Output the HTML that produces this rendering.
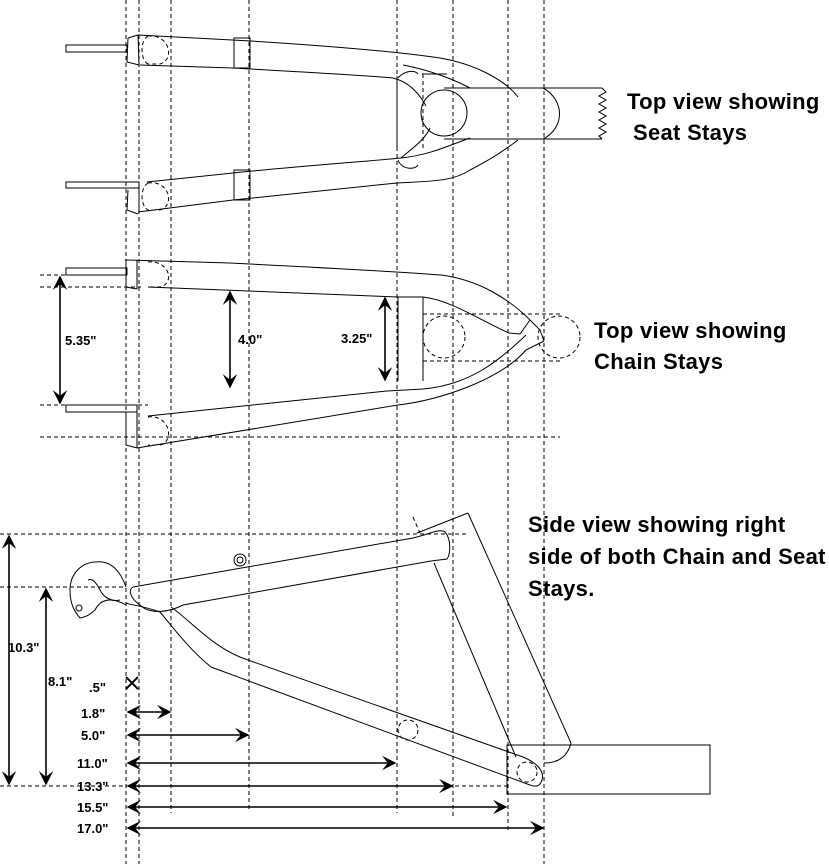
<!DOCTYPE html>
<html><head><meta charset="utf-8"><style>
html,body{margin:0;padding:0;background:#fff;}
svg{display:block;}
.l{fill:none;stroke:#000;stroke-width:1;}
.d{fill:none;stroke:#000;stroke-width:1;stroke-dasharray:4,3;}
.a{fill:none;stroke:#000;stroke-width:1.6;}
.t{font-family:"Liberation Sans",sans-serif;font-weight:bold;font-size:22px;letter-spacing:0.3px;}
.s{font-family:"Liberation Sans",sans-serif;font-weight:bold;font-size:13px;}
</style></head><body>
<svg width="829" height="864" viewBox="0 0 829 864" xmlns="http://www.w3.org/2000/svg">
<defs>
<marker id="ah" viewBox="0 0 10 10" refX="9" refY="5" markerWidth="9" markerHeight="9" orient="auto-start-reverse">
<path d="M0,0 L10,5 L0,10 L4,5 Z" fill="#000"/></marker>
</defs>
<line class="d" x1="126" y1="0" x2="126" y2="864"/>
<line class="d" x1="139" y1="0" x2="139" y2="864"/>
<line class="d" x1="171" y1="0" x2="171" y2="813"/>
<line class="d" x1="249" y1="0" x2="249" y2="810"/>
<line class="d" x1="397" y1="0" x2="397" y2="813"/>
<line class="d" x1="453" y1="0" x2="453" y2="818"/>
<line class="d" x1="508" y1="0" x2="508" y2="830"/>
<line class="d" x1="544" y1="0" x2="544" y2="864"/>

<!-- TOP VIEW SEAT STAYS -->
<rect class="l" x="66" y="45" width="61" height="7"/>
<rect class="l" x="66" y="182" width="73" height="6"/>
<path class="l" d="M138,35 L251,41 C330,46 400,52 440,58 C475,64 505,80 518,97"/>
<path class="l" d="M128,38 L138,35 M128,38 L127,62 L139,65 M138,35 L139,65"/>
<path class="l" d="M140,65 L233,68 C300,72 360,75 393,78 C410,82 420,95 426,106"/>
<path class="d" d="M148,36 C170,34 175,60 160,64 L148,64 M148,36 C140,40 140,60 148,64"/>
<rect class="l" x="234" y="38" width="16" height="30"/>
<path class="l" d="M397,76 L397,148 M422,74 L447,74"/>
<path class="d" d="M423,74 L423,150"/>
<path class="l" d="M398,78 C405,70 415,70 418,74"/>
<path class="l" d="M403,65 C430,70 455,80 470,88"/>
<circle class="l" cx="444" cy="113" r="23"/>
<path class="l" d="M444,88 L602,88 M444,139 L602,139 M543,88 C565,100 565,128 543,139"/>
<path class="l" d="M602,88 L606,92 L599,96 L606,100 L599,104 L606,108 L599,112 L606,116 L599,120 L606,124 L599,128 L606,132 L599,136 L602,139" stroke-width="0.8"/>
<path class="l" d="M147,182 L233,173 C300,166 360,162 401,158 C430,155 450,145 470,138"/>
<path class="l" d="M138,212 L233,200 C300,193 360,187 397,183 C430,181 452,182 470,170 C490,160 505,150 518,140"/>
<path class="l" d="M128,190 L127,210 L138,214 M139,188 L139,212"/>
<path class="d" d="M148,183 C170,180 175,206 160,210 L148,210 M148,183 C140,188 140,205 148,210"/>
<rect class="l" x="234" y="170" width="16" height="30"/>
<path class="l" d="M401,158 C410,150 425,140 430,128"/>
<path class="l" d="M398,160 C402,170 415,170 418,165"/>

<!-- TOP VIEW CHAIN STAYS -->
<line class="d" x1="40" y1="275" x2="126" y2="275"/>
<line class="d" x1="40" y1="287" x2="141" y2="287"/>
<line class="d" x1="40" y1="405" x2="148" y2="405"/>
<line class="d" x1="40" y1="437" x2="560" y2="437"/>
<rect class="l" x="66" y="268" width="61" height="7"/>
<rect class="l" x="66" y="405" width="71" height="7"/>
<path class="l" d="M125,260 L230,263 C330,268 400,272 441,275 C480,280 510,300 530,320 L540,330 L544,341"/>
<path class="l" d="M126,263 L126,287 L137,289 M137,260 L137,289"/>
<path class="l" d="M148,287 L398,297 L423,297 C450,300 480,320 509,333 L520,334 L530,320"/>
<path class="d" d="M148,262 C170,260 175,284 160,287 L148,287"/>
<path class="l" d="M148,416 L387,391 L423,389 C470,385 500,360 526,335"/>
<path class="l" d="M137,448 L398,405 C440,400 500,380 526,350 L544,341"/>
<path class="l" d="M126,412 L126,445 L137,448 M137,412 L137,448"/>
<path class="d" d="M148,417 C170,414 175,442 160,445 L148,445"/>
<line class="l" x1="423" y1="297" x2="423" y2="381"/>
<line class="l" x1="398" y1="297" x2="398" y2="381"/>
<circle class="d" cx="444" cy="337" r="21"/>
<circle class="d" cx="559" cy="337" r="21"/>
<line class="d" x1="423" y1="361" x2="560" y2="361"/>
<line class="d" x1="423" y1="314" x2="560" y2="314"/>
<line class="a" x1="60" y1="277" x2="60" y2="403" marker-start="url(#ah)" marker-end="url(#ah)"/>
<line class="a" x1="230" y1="292" x2="230" y2="387" marker-start="url(#ah)" marker-end="url(#ah)"/>
<line class="a" x1="385" y1="298" x2="385" y2="380" marker-start="url(#ah)" marker-end="url(#ah)"/>
<text class="s" x="65" y="345">5.35"</text>
<text class="s" x="238" y="344">4.0"</text>
<text class="s" x="341" y="343">3.25"</text>

<!-- SIDE VIEW -->
<line class="d" x1="0" y1="534" x2="468" y2="534"/>
<line class="d" x1="0" y1="587" x2="126" y2="587"/>
<line class="d" x1="0" y1="786" x2="508" y2="786"/>
<line class="a" x1="9" y1="536" x2="9" y2="784" marker-start="url(#ah)" marker-end="url(#ah)"/>
<line class="a" x1="46" y1="589" x2="46" y2="784" marker-start="url(#ah)" marker-end="url(#ah)"/>
<text class="s" x="8" y="652">10.3"</text>
<text class="s" x="48" y="686">8.1"</text>
<text class="s" x="89" y="692">.5"</text>
<path d="M126,677 L138,689 M138,677 L126,689" stroke="#000" stroke-width="2"/>
<text class="s" x="81" y="718">1.8"</text>
<text class="s" x="81" y="740">5.0"</text>
<text class="s" x="77" y="768">11.0"</text>
<text class="s" x="77" y="791">13.3"</text>
<text class="s" x="77" y="812">15.5"</text>
<text class="s" x="77" y="833">17.0"</text>
<line class="a" x1="128" y1="712" x2="170" y2="712" marker-start="url(#ah)" marker-end="url(#ah)"/>
<line class="a" x1="128" y1="735" x2="248" y2="735" marker-start="url(#ah)" marker-end="url(#ah)"/>
<line class="a" x1="128" y1="763" x2="395" y2="763" marker-start="url(#ah)" marker-end="url(#ah)"/>
<line class="a" x1="128" y1="786" x2="452" y2="786" marker-start="url(#ah)" marker-end="url(#ah)"/>
<line class="a" x1="128" y1="807" x2="506" y2="807" marker-start="url(#ah)" marker-end="url(#ah)"/>
<line class="a" x1="128" y1="828" x2="543" y2="828" marker-start="url(#ah)" marker-end="url(#ah)"/>
<path class="l" d="M126,587 C120,570 110,560 95,562 C80,563 70,575 70,590 C70,605 75,612 80,618 C90,616 92,612 95,610 C100,600 110,596 126,605"/>
<circle class="l" cx="79" cy="608" r="3"/>
<path class="l" d="M88,580 C92,578 96,582 100,590 C104,598 112,602 120,600"/>
<path class="l" d="M133,587 L413,538 C430,534 440,528 445,532 C452,540 450,555 447,559 L431,561 L183,605 C170,612 150,615 140,605 C130,598 128,590 133,587 Z"/>
<circle class="l" cx="240" cy="560" r="6"/>
<circle class="l" cx="240" cy="560" r="3"/>
<path class="l" d="M417,533 L468,513"/>
<path class="l" d="M468,513 L571,743 C568,755 560,763 544,763"/>
<path class="l" d="M434,563 L516,757"/>
<line class="d" x1="413" y1="517" x2="420" y2="533"/>
<path class="l" d="M171,607 C190,620 215,650 248,660 L523,757 C535,762 545,770 542,780 C540,787 535,787 530,785 L211,667 C190,650 175,630 160,612 C140,605 130,605 126,603"/>
<circle class="d" cx="408" cy="730" r="10"/>
<circle class="d" cx="527" cy="772" r="10"/>
<rect class="l" x="507" y="745" width="203" height="49"/>

<text class="t" x="627" y="109">Top view showing</text>
<text class="t" x="633" y="140">Seat Stays</text>
<text class="t" x="594" y="338">Top view showing</text>
<text class="t" x="594" y="369">Chain Stays</text>
<text class="t" x="528" y="532">Side view showing right</text>
<text class="t" x="528" y="564">side of both Chain and Seat</text>
<text class="t" x="528" y="596">Stays.</text>
</svg>
</body></html>
